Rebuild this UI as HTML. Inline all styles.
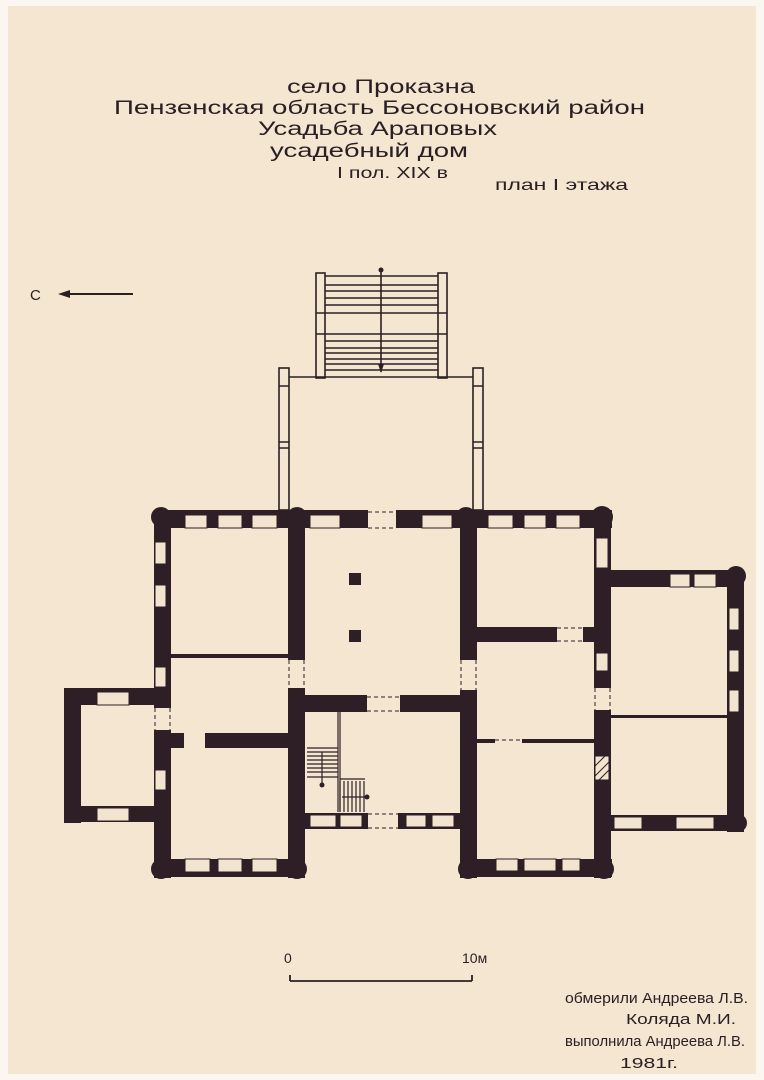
<!DOCTYPE html>
<html><head><meta charset="utf-8"><style>
html,body{margin:0;padding:0;background:#fff}
svg{display:block}
text{font-family:"Liberation Sans","DejaVu Sans",sans-serif;fill:#2a2024}
</style></head><body>
<svg width="764" height="1080" viewBox="0 0 764 1080" xmlns="http://www.w3.org/2000/svg">
<rect x="0" y="0" width="764" height="1080" fill="#fbf7f0"/>
<rect x="8" y="6" width="748" height="1068" fill="#f5e6d1"/>
<g font-size="19">
<text x="287" y="93" textLength="188" lengthAdjust="spacingAndGlyphs">село Проказна</text>
<text x="114" y="114" textLength="531" lengthAdjust="spacingAndGlyphs">Пензенская область Бессоновский район</text>
<text x="258" y="135" textLength="239" lengthAdjust="spacingAndGlyphs">Усадьба Араповых</text>
<text x="270" y="157" textLength="198" lengthAdjust="spacingAndGlyphs">усадебный дом</text>
<text x="337" y="178" font-size="16" textLength="111" lengthAdjust="spacingAndGlyphs">I пол. XIX в</text>
<text x="495" y="190" font-size="16" textLength="133" lengthAdjust="spacingAndGlyphs">план I этажа</text>
<text x="30" y="300" font-size="15">С</text>
</g>
<line x1="62" y1="294" x2="133" y2="294" stroke="#2a2024" stroke-width="2"/>
<polygon points="58,294 70,290 70,298" fill="#2a2024"/>

<g stroke="#2a2024" fill="none" stroke-width="1.6">
<rect x="316" y="273" width="9" height="105"/>
<rect x="438" y="273" width="9" height="105"/>
<path d="M325 276H438M325 285H438M325 291H438M325 298H438M325 305H438M316 313H447M316 334H447M325 341H438M325 348H438M325 353H438M325 359H438M325 364H438M325 370H438"/>
<line x1="381" y1="270" x2="381" y2="372"/>
<rect x="279" y="368" width="10" height="142"/>
<rect x="473" y="368" width="10" height="142"/>
<path d="M289 377H473"/>
<path d="M279 386H289M279 442H289M279 448H289M473 386H483M473 442H483M473 448H483"/>
</g>
<circle cx="381" cy="270" r="2.5" fill="#2a2024"/>
<polygon points="378,364 384,364 381,373" fill="#2a2024"/>

<g fill="#2e1f26">
<rect x="154" y="510" width="458" height="18"/>
<rect x="154" y="510" width="17" height="368"/>
<rect x="288" y="510" width="17" height="150"/>
<rect x="288" y="688" width="17" height="190"/>
<rect x="460" y="510" width="17" height="150"/>
<rect x="460" y="690" width="17" height="188"/>
<rect x="594" y="510" width="17" height="368"/>
<rect x="154" y="859" width="151" height="18"/>
<rect x="460" y="859" width="152" height="18"/>
<rect x="305" y="813" width="155" height="16"/>
<rect x="305" y="695" width="62" height="17"/>
<rect x="400" y="695" width="60" height="17"/>
<rect x="171" y="654" width="117" height="4"/>
<rect x="171" y="733" width="13" height="15"/>
<rect x="205" y="733" width="83" height="15"/>
<rect x="477" y="627" width="80" height="15"/>
<rect x="583" y="627" width="28" height="15"/>
<rect x="477" y="739" width="18" height="4"/>
<rect x="522" y="739" width="72" height="4"/>
<rect x="611" y="570" width="133" height="17"/>
<rect x="727" y="570" width="17" height="262"/>
<rect x="611" y="815" width="133" height="16"/>
<rect x="611" y="715" width="116" height="3"/>
<rect x="64" y="688" width="107" height="17"/>
<rect x="64" y="688" width="17" height="135"/>
<rect x="64" y="806" width="107" height="16"/>
<circle cx="161" cy="517" r="10"/><circle cx="297" cy="517" r="10"/><circle cx="466" cy="517" r="10"/><circle cx="602" cy="517" r="11"/>
<circle cx="161" cy="869" r="10"/><circle cx="297" cy="869" r="10"/><circle cx="468" cy="869" r="10"/><circle cx="604" cy="869" r="10"/>
<circle cx="736" cy="576" r="10"/><circle cx="738" cy="823" r="9"/>
<rect x="349" y="573" width="12" height="12"/>
<rect x="349" y="630" width="12" height="12"/>
</g>
<!-- door gaps -->
<g fill="#f5e6d1">
<rect x="368" y="510" width="28" height="18"/>
<rect x="154" y="708" width="17" height="22"/>
<rect x="594" y="688" width="17" height="22"/>
<rect x="368" y="813" width="30" height="16"/>
</g>

<g fill="#f3e4cf" stroke="#2e1f26" stroke-width="1">
<rect x="185" y="515" width="22" height="13"/><rect x="218" y="515" width="24" height="13"/><rect x="252" y="515" width="25" height="13"/>
<rect x="310" y="515" width="30" height="13"/><rect x="422" y="515" width="30" height="13"/>
<rect x="488" y="515" width="25" height="13"/><rect x="524" y="515" width="22" height="13"/><rect x="556" y="515" width="24" height="13"/>
<rect x="155" y="542" width="11" height="22"/><rect x="155" y="585" width="11" height="22"/><rect x="155" y="667" width="11" height="20"/>
<rect x="185" y="859" width="25" height="13"/><rect x="218" y="859" width="24" height="13"/><rect x="252" y="859" width="25" height="13"/>
<rect x="496" y="859" width="22" height="12"/><rect x="524" y="859" width="32" height="12"/><rect x="562" y="859" width="18" height="12"/>
<rect x="310" y="815" width="26" height="12"/><rect x="340" y="815" width="22" height="12"/><rect x="406" y="815" width="20" height="12"/><rect x="432" y="815" width="22" height="12"/>
<rect x="596" y="538" width="12" height="30"/><rect x="596" y="653" width="12" height="18"/>
<rect x="670" y="574" width="20" height="13"/><rect x="694" y="574" width="22" height="13"/>
<rect x="729" y="608" width="10" height="22"/><rect x="729" y="650" width="10" height="22"/><rect x="729" y="690" width="10" height="22"/>
<rect x="614" y="817" width="28" height="12"/><rect x="676" y="817" width="38" height="12"/>
<rect x="97" y="692" width="32" height="13"/><rect x="97" y="808" width="32" height="13"/>
<rect x="155" y="770" width="11" height="20"/>
</g>
<g fill="none" stroke="#2e1f26" stroke-width="1" stroke-dasharray="4,3">
<path d="M368 512H396M368 528H396"/>
<path d="M367 697H400M367 711H400"/>
<path d="M289 660V688M304 660V688M461 660V690M476 660V690"/>
<path d="M557 628H583M557 641H583"/>
<path d="M495 740H522"/>
<path d="M155 708V730M170 708V730"/>
<path d="M595 688V710M610 688V710"/>
<path d="M368 814H398M368 828H398"/>
</g>
<rect x="595" y="756" width="14" height="24" fill="#f3e4cf" stroke="#2e1f26"/>
<g stroke="#2e1f26" stroke-width="1"><path d="M595 766L605 756M595 776L609 762M599 780L609 770"/></g>

<g stroke="#2e1f26" fill="none" stroke-width="1.2">
<path d="M307 748H338M307 752H338M307 756H338M307 760H338M307 764H338M307 768H338M307 772H338M307 777H338"/>
<path d="M338 712V812M340 712V812"/>
<path d="M340 781V812M344 781V812M348 781V812M352 781V812M356 781V812M360 781V812M364 781V812M340 779H365"/>
<path d="M322 752V785M342 797H365"/>
</g>
<circle cx="322" cy="785" r="2.5" fill="#2e1f26"/><circle cx="367" cy="797" r="2.5" fill="#2e1f26"/>

<g font-size="14"><text x="284" y="963">0</text><text x="462" y="963">10м</text></g>
<path d="M290 981H472M290 975V981M472 975V981" stroke="#2a2024" stroke-width="1.8" fill="none"/>
<g font-size="15">
<text x="565" y="1003" textLength="183" lengthAdjust="spacingAndGlyphs">обмерили Андреева Л.В.</text>
<text x="626" y="1024" textLength="110" lengthAdjust="spacingAndGlyphs">Коляда М.И.</text>
<text x="565" y="1046" textLength="180" lengthAdjust="spacingAndGlyphs">выполнила Андреева Л.В.</text>
<text x="620" y="1068" textLength="58" lengthAdjust="spacingAndGlyphs">1981г.</text>
</g>
</svg>
</body></html>
